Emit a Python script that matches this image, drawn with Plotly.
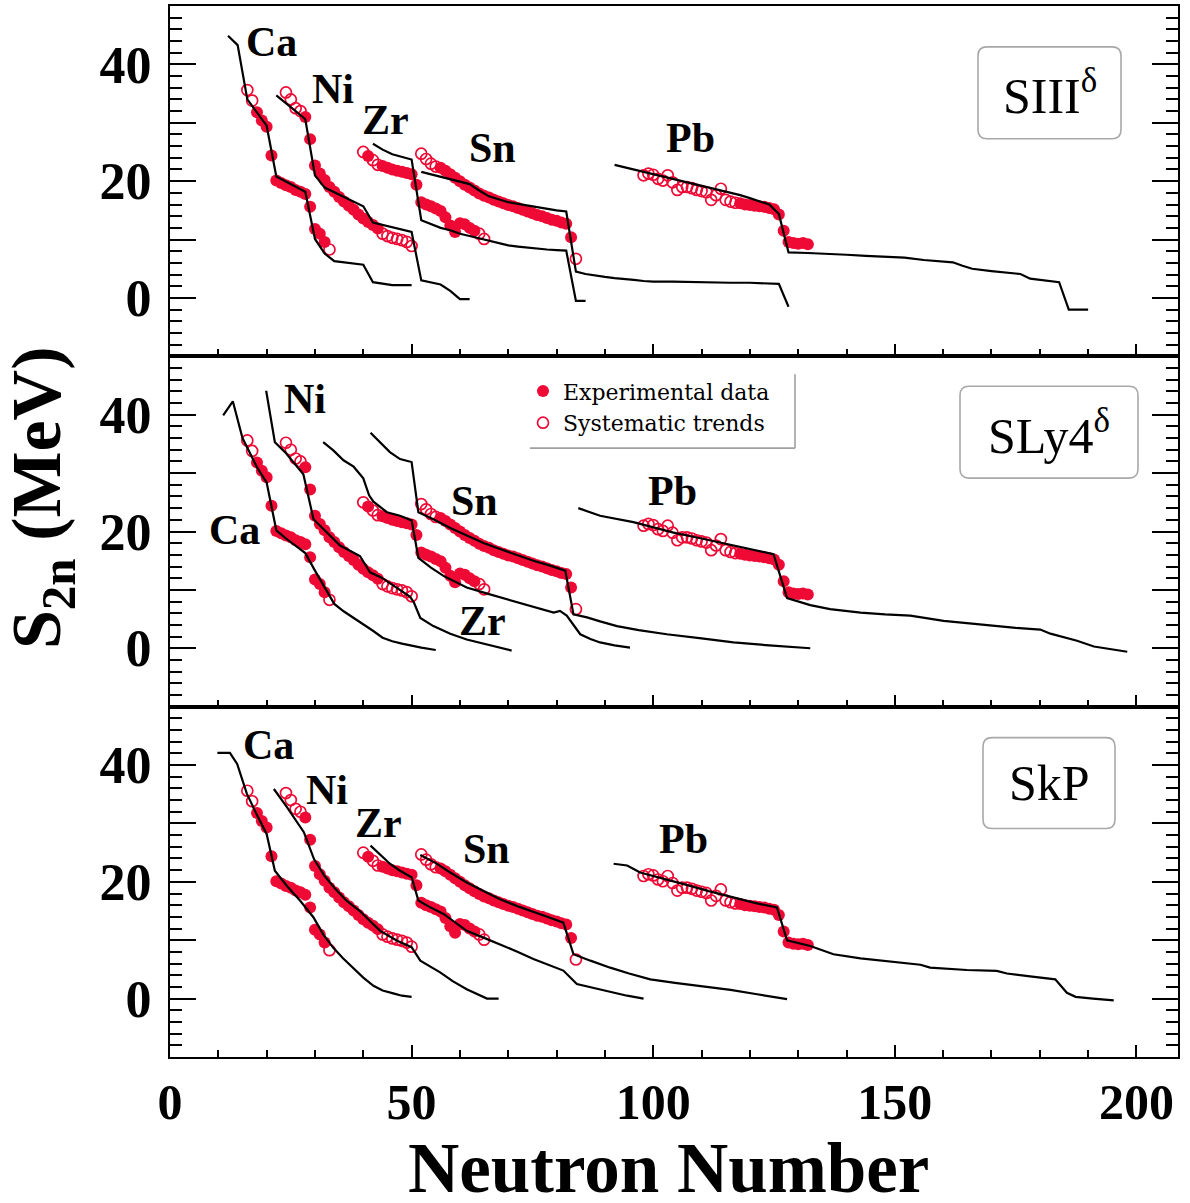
import plotly.graph_objects as go
from plotly.subplots import make_subplots

SERIF = "Liberation Serif"
RED = "#ee0a35"

# ---------------- experimental data (same in all panels) ----------------
ca_exp_n = [18, 19, 20, 21, 22, 23, 24, 25, 26, 27, 28, 29, 30, 31, 32]
ca_exp_s = [31.8, 30.4, 29.3, 24.4, 20.1, 19.7, 19.3, 19.0, 18.5, 18.2, 17.8, 15.6, 11.8, 11.0, 9.6]
ca_sys_n = [16, 17, 33]
ca_sys_s = [35.6, 33.8, 8.3]

ni_exp_n = [28, 29, 30, 31, 32, 33, 34, 35, 36, 37, 38, 39, 40, 41, 42, 43]
ni_exp_s = [31.0, 27.2, 22.7, 21.3, 20.2, 19.0, 18.2, 17.3, 16.5, 15.8, 15.1, 14.3, 13.6, 13.0, 12.5, 11.9]
ni_sys_n = [24, 25, 26, 27, 44, 45, 46, 47, 48, 49, 50]
ni_sys_s = [35.2, 34.0, 32.5, 32.0, 11.0, 10.6, 10.3, 10.1, 9.9, 9.6, 8.9]

zr_exp_n = [41, 44, 45, 46, 47, 48, 49, 50, 51, 52, 53, 54, 55, 56, 57, 58, 59, 60, 61, 62, 63]
zr_exp_s = [24.3, 22.6, 22.3, 22.0, 21.8, 21.6, 21.4, 21.2, 19.4, 16.4, 16.0, 15.7, 15.3, 14.9, 13.8,
            12.4, 11.3, 12.8, 12.6, 12.0, 11.5]
zr_sys_n = [40, 42, 43, 64, 65]
zr_sys_s = [25.0, 23.6, 22.8, 11.0, 10.1]

sn_exp_n = [56, 57, 58, 59, 60, 61, 62, 63, 64, 65, 66, 67, 68, 69, 70, 71, 72, 73, 74, 75, 76, 77,
            78, 79, 80, 81, 82, 83]
sn_exp_s = [22.3, 21.8, 21.2, 20.6, 20.0, 19.4, 18.9, 18.4, 17.9, 17.5, 17.2, 16.8, 16.5, 16.2, 15.9,
            15.7, 15.4, 15.1, 14.8, 14.5, 14.2, 14.0, 13.7, 13.4, 13.2, 12.9, 12.7, 10.4]
sn_sys_n = [52, 53, 54, 55, 84]
sn_sys_s = [24.7, 23.8, 23.0, 22.5, 6.7]

pb_exp_n = [118, 119, 120, 121, 122, 123, 124, 125, 126, 127, 128, 129, 130, 131, 132]
pb_exp_s = [16.2, 16.0, 15.9, 15.8, 15.7, 15.6, 15.4, 15.2, 14.3, 11.5, 9.6, 9.4, 9.3, 9.4, 9.2]
pb_sys_n = [98, 99, 100, 101, 102, 103, 104, 105, 106, 107, 108, 109, 110, 111, 112, 113, 114, 115, 116, 117]
pb_sys_s = [21.0, 21.3, 21.1, 20.4, 20.1, 21.0, 19.8, 18.5, 19.0, 19.0, 18.8, 18.5, 18.3, 18.1, 16.8,
            17.6, 18.7, 16.8, 16.5, 16.3]

# ---------------- SIII^delta calculations ----------------
siii_ca_n = [12, 14, 16, 18, 20, 22, 24, 26, 28, 30, 32, 34, 36, 38, 40, 42, 44, 46, 48, 50]
siii_ca_s = [44.9, 43.3, 34.0, 31.7, 29.5, 20.8, 19.9, 19.0, 18.2, 10.1, 7.6, 6.3, 6.1, 5.9, 5.7, 2.7,
             2.4, 2.2, 2.2, 2.2]
siii_ni_n = [22, 24, 26, 28, 30, 32, 34, 36, 38, 40, 42, 44, 46, 48, 50, 52, 54, 56, 58, 60, 62]
siii_ni_s = [34.7, 33.4, 32.0, 30.6, 21.0, 18.9, 18.1, 17.3, 16.5, 15.7, 12.9, 12.5, 12.1, 11.7, 11.3,
             3.0, 2.7, 2.3, 1.2, -0.2, -0.2]
siii_zr_n = [42, 44, 46, 48, 50, 52, 54, 56, 58, 60, 62, 64, 66, 68, 70, 72, 74, 76, 78, 80, 82, 84, 86]
siii_zr_s = [26.4, 25.4, 24.6, 24.1, 23.7, 13.3, 12.6, 12.0, 11.6, 11.0, 10.6, 10.2, 9.8, 9.4, 9.0,
             8.8, 8.6, 8.4, 8.3, 8.2, 8.1, -0.5, -0.5]
siii_sn_n = [52, 54, 56, 58, 60, 62, 64, 66, 68, 70, 72, 74, 76, 78, 80, 82, 84, 86, 88, 90, 92, 94,
             96, 98, 100, 104, 108, 112, 116, 120, 124, 126, 128]
siii_sn_s = [21.6, 21.2, 20.8, 20.4, 20.0, 19.5, 18.4, 17.4, 16.9, 16.4, 16.1, 15.8, 15.5, 15.3, 15.0,
             14.8, 4.5, 4.1, 3.8, 3.6, 3.4, 3.3, 3.1, 2.9, 2.8, 2.8, 2.7, 2.7, 2.6, 2.6, 2.5, 2.4, -1.5]
siii_pb_n = [92, 94, 96, 98, 100, 102, 104, 106, 108, 110, 112, 114, 116, 118, 120, 122, 124, 126, 128,
             132, 136, 140, 144, 148, 152, 156, 160, 162, 164, 166, 170, 174, 176, 178, 180, 184, 186, 190]
siii_pb_s = [22.8, 22.4, 22.0, 21.6, 21.2, 20.9, 20.5, 20.1, 19.7, 19.3, 18.9, 18.5, 18.1, 17.6, 17.1,
             16.6, 16.0, 14.4, 7.8, 7.7, 7.6, 7.4, 7.2, 7.1, 6.9, 6.5, 6.2, 6.1, 5.5, 5.0, 4.6, 4.2,
             4.1, 3.3, 3.1, 2.7, -2.0, -2.0]

# ---------------- SLy4^delta calculations ----------------
sly4_ca_n = [11, 13, 15, 18, 20, 22, 24, 26, 28, 30, 32, 34, 36, 38, 40, 42, 44, 46, 48, 50, 52, 55]
sly4_ca_s = [39.9, 42.3, 36.0, 31.0, 28.4, 20.2, 18.8, 17.6, 16.3, 13.3, 10.4, 7.6, 6.3, 5.2, 4.2,
             3.0, 1.8, 1.2, 0.8, 0.4, 0.1, -0.3]
sly4_ni_n = [19.9, 21.7, 23.8, 26.2, 27.6, 29.7, 31.7, 35.2, 39.3, 41.4, 43.8, 47, 49.7, 50.5, 51.8,
             54.5, 58, 61.4, 66, 70.7]
sly4_ni_s = [44.1, 35.3, 33.6, 31.3, 29.8, 22.1, 20.4, 17.6, 15.8, 13.0, 12.1, 10.3, 8.8, 7.8, 5.2,
             3.8, 2.5, 1.5, 0.5, -0.4]
sly4_zr_n = [31.7, 33.8, 35.9, 38, 40, 41.2, 42.1, 44.9, 47.6, 50, 51.4, 54, 56.6, 61.4, 65.5, 69.7,
             74.5, 79.4, 80.7, 82.1, 84.9, 87, 89, 92, 95.2]
sly4_zr_s = [35.3, 33.9, 32.2, 31.1, 29.1, 26.2, 25.1, 23.3, 22.7, 21.9, 15.5, 13.8, 12.4, 10.4, 9.4,
             8.4, 7.3, 6.1, 6.4, 5.6, 2.4, 1.6, 1.0, 0.5, 0.1]
sly4_sn_n = [41.5, 43.5, 45.5, 47.6, 50, 51.4, 54.5, 58, 61.4, 65, 68.3, 72, 75.2, 78.5, 81.8, 83.5,
             86.3, 89, 92.5, 97, 102.8, 110, 116.6, 124, 132.5]
sly4_sn_s = [36.9, 35.3, 33.6, 32.4, 31.9, 23.3, 22.1, 20.6, 19.3, 18.0, 17.0, 15.9, 15.0, 14.2, 13.3,
             5.8, 5.3, 4.6, 3.8, 3.1, 2.4, 1.7, 1.0, 0.5, 0.0]
sly4_pb_n = [84.5, 89, 95.9, 100, 104.2, 110, 116.6, 121, 124.9, 127.7, 130, 132.5, 136.6, 142.9, 148,
             153.2, 160.1, 165, 170.5, 175, 180.1, 182.2, 187.7, 191.2, 198.1]
sly4_pb_s = [24.0, 22.7, 21.6, 20.7, 19.8, 18.8, 17.6, 16.8, 16.1, 8.6, 8.0, 7.4, 6.7, 6.1, 5.8, 5.6,
             4.7, 4.3, 3.8, 3.5, 3.2, 2.5, 1.3, 0.3, -0.6]

# ---------------- SkP calculations ----------------
skp_ca_n = [9.8, 12.4, 13.9, 15.9, 17.9, 20, 21.7, 24.2, 26.9, 29.7, 31.7, 33.8, 35.8, 37.9, 40, 42.1,
            44, 46.2, 48, 50]
skp_ca_s = [42.1, 42.1, 40.2, 35.1, 31.6, 28.2, 21.9, 19.3, 16.8, 13.9, 11.0, 8.7, 6.9, 5.3, 3.6, 2.2,
            1.4, 0.9, 0.5, 0.3]
skp_ni_n = [21.5, 24.2, 27.7, 29.8, 32, 34.2, 36.5, 39.3, 41.5, 43.5, 47, 50, 51.8, 55.9, 58.5, 61.4,
            65.6, 68]
skp_ni_s = [35.9, 32.8, 28.5, 23.9, 21.0, 18.8, 16.8, 15.0, 13.2, 11.6, 9.9, 8.8, 6.5, 4.5, 3.0, 1.6,
            0.0, 0.0]
skp_zr_n = [41.5, 43.5, 45.5, 47.6, 50, 51.4, 53.5, 56.6, 59, 61.4, 65, 68.3, 72, 75.2, 78.5, 81.4,
            84.2, 89, 94.6, 98]
skp_zr_s = [26.2, 24.6, 23.1, 21.9, 20.8, 16.8, 15.8, 14.5, 13.0, 11.6, 10.4, 9.3, 8.0, 6.8, 5.8, 4.8,
            2.5, 1.6, 0.5, 0.0]
skp_sn_n = [51.8, 55, 58, 61.4, 65, 68.3, 72, 75.2, 78.5, 81.4, 83.5, 87, 91.1, 95, 99.4, 104.5, 109.7,
            116, 121.5, 127.7]
skp_sn_s = [24.6, 23.2, 21.6, 19.9, 18.4, 17.0, 15.8, 14.8, 13.9, 13.0, 7.6, 6.5, 5.3, 4.3, 3.3, 2.7,
            2.2, 1.5, 0.75, -0.1]
skp_pb_n = [91.8, 94.6, 97.3, 102, 106.3, 111.5, 116.6, 121, 125.6, 127.7, 132.5, 137.3, 142.9, 149,
            155.3, 157.3, 164.9, 171.1, 173.2, 178, 183.2, 185.6, 187.4, 191, 195.3]
skp_pb_s = [23.1, 22.8, 21.6, 20.6, 19.6, 18.4, 17.3, 16.4, 15.6, 10.0, 9.0, 7.6, 6.9, 6.3, 5.8, 5.3,
            4.9, 4.75, 4.3, 3.8, 3.3, 1.0, 0.3, 0.0, -0.3]

element_names = ["Ca", "Ni", "Zr", "Sn", "Pb"]
model_names = ["SIII<sup>δ</sup>", "SLy4<sup>δ</sup>", "SkP"]

exp_sets = [(ca_exp_n, ca_exp_s), (ni_exp_n, ni_exp_s), (zr_exp_n, zr_exp_s),
            (sn_exp_n, sn_exp_s), (pb_exp_n, pb_exp_s)]
sys_sets = [(ca_sys_n, ca_sys_s), (ni_sys_n, ni_sys_s), (zr_sys_n, zr_sys_s),
            (sn_sys_n, sn_sys_s), (pb_sys_n, pb_sys_s)]
model_lines = [
    [(siii_ca_n, siii_ca_s), (siii_ni_n, siii_ni_s), (siii_zr_n, siii_zr_s),
     (siii_sn_n, siii_sn_s), (siii_pb_n, siii_pb_s)],
    [(sly4_ca_n, sly4_ca_s), (sly4_ni_n, sly4_ni_s), (sly4_zr_n, sly4_zr_s),
     (sly4_sn_n, sly4_sn_s), (sly4_pb_n, sly4_pb_s)],
    [(skp_ca_n, skp_ca_s), (skp_ni_n, skp_ni_s), (skp_zr_n, skp_zr_s),
     (skp_sn_n, skp_sn_s), (skp_pb_n, skp_pb_s)],
]

# element label positions (data coords) per panel
label_pos = [
    [(21.1, 43.8), (33.7, 35.8), (44.5, 30.5), (66.7, 25.7), (107.7, 27.4)],
    [(13.3, 20.2), (28.0, 42.7), (64.6, 4.7), (63.1, 25.3), (103.9, 26.9)],
    [(20.3, 43.5), (32.5, 35.8), (43.1, 30.1), (65.4, 25.7), (106.2, 27.4)],
]

# ---------------- layout geometry ----------------
W, H = 1190, 1203
ML, MR, MT, MB = 170, 12, 4, 146
PW, PH = W - ML - MR, H - MT - MB


def px(x):
    return (x - ML) / PW


def py(y):
    return (H - MB - y) / PH


def rounded(x0, y0, x1, y1, r):
    return (f"M {px(x0 + r)},{py(y0)} L {px(x1 - r)},{py(y0)} "
            f"Q {px(x1)},{py(y0)} {px(x1)},{py(y0 + r)} L {px(x1)},{py(y1 - r)} "
            f"Q {px(x1)},{py(y1)} {px(x1 - r)},{py(y1)} L {px(x0 + r)},{py(y1)} "
            f"Q {px(x0)},{py(y1)} {px(x0)},{py(y1 - r)} L {px(x0)},{py(y0 + r)} "
            f"Q {px(x0)},{py(y0)} {px(x0 + r)},{py(y0)} Z")


fig = make_subplots(rows=3, cols=1, shared_xaxes=True, vertical_spacing=0)

for row in range(1, 4):
    first = True
    for (n, s) in exp_sets:
        fig.add_trace(go.Scatter(x=n, y=s, mode="markers", name="Experimental data",
                                 legendgroup="exp", showlegend=(row == 1 and first),
                                 marker=dict(symbol="circle", size=12, color=RED)),
                      row=row, col=1)
        first = False
    first = True
    for (n, s) in sys_sets:
        fig.add_trace(go.Scatter(x=n, y=s, mode="markers", name="Systematic trends",
                                 legendgroup="sys", showlegend=(row == 1 and first),
                                 marker=dict(symbol="circle-open", size=11, color=RED,
                                             line=dict(width=1.7, color=RED))),
                      row=row, col=1)
        first = False
    for (n, s) in model_lines[row - 1]:
        fig.add_trace(go.Scatter(x=n, y=s, mode="lines", showlegend=False,
                                 line=dict(color="black", width=2.2)),
                      row=row, col=1)
    for name, (lx, ly) in zip(element_names, label_pos[row - 1]):
        fig.add_annotation(x=lx, y=ly, xref=f"x{'' if row == 1 else row}",
                           yref=f"y{'' if row == 1 else row}", text=f"<b>{name}</b>",
                           showarrow=False, xanchor="center", yanchor="middle",
                           font=dict(family=SERIF, size=42, color="black"))

    fig.update_xaxes(row=row, col=1, range=[0, 208.6], showline=True, linewidth=2,
                     linecolor="black", mirror=True, ticks="inside", tick0=0, dtick=50,
                     ticklen=12, tickwidth=2, tickcolor="black", showgrid=False, zeroline=False,
                     minor=dict(tick0=0, dtick=10, ticks="inside", ticklen=7, tickwidth=1.5,
                                tickcolor="black", showgrid=False),
                     showticklabels=(row == 3),
                     tickfont=dict(family=SERIF, size=50, color="black", weight="bold"))
    fig.update_yaxes(row=row, col=1, range=[-10, 50], showline=True, linewidth=2,
                     linecolor="black", mirror="allticks", ticks="inside",
                     tickmode="array", tickvals=[-10, 0, 10, 20, 30, 40, 50],
                     ticktext=["", "0", "", "20", "", "40", ""],
                     ticklen=26, tickwidth=2, tickcolor="black", showgrid=False, zeroline=False,
                     minor=dict(tickmode="linear", tick0=0, dtick=2, ticks="inside", ticklen=12,
                                tickwidth=1.5, tickcolor="black", showgrid=False),
                     ticklabelstandoff=6,
                     tickfont=dict(family=SERIF, size=52, color="black", weight="bold"))

# model boxes
boxes = [(978, 45, 1121, 137), (960, 385, 1138, 477), (983, 737, 1115, 828)]
for (x0, y0, x1, y1), label in zip(boxes, model_names):
    fig.add_shape(type="path", path=rounded(x0, y0, x1, y1, 9), xref="paper", yref="paper",
                  line=dict(color="#a8a8a8", width=1.6), fillcolor="rgba(0,0,0,0)")
    fig.add_annotation(x=px((x0 + x1) / 2), y=py((y0 + y1) / 2), xref="paper", yref="paper",
                       text=label, showarrow=False, xanchor="center", yanchor="middle",
                       font=dict(family=SERIF, size=50, color="black"))

# legend frame (right and bottom edges only)
fig.add_shape(type="line", xref="paper", yref="paper", x0=px(795), x1=px(795), y0=py(373),
              y1=py(447), line=dict(color="#a0a0a0", width=1.6))
fig.add_shape(type="line", xref="paper", yref="paper", x0=px(530), x1=px(795), y0=py(447),
              y1=py(447), line=dict(color="#a0a0a0", width=1.6))

# axis titles
fig.add_annotation(x=px(42), y=py(497), xref="paper", yref="paper",
                   text="<b>S<sub>2n</sub> (MeV)</b>", textangle=-90, showarrow=False,
                   xanchor="center", yanchor="middle",
                   font=dict(family=SERIF, size=70, color="black"))
fig.add_annotation(x=px(668), y=py(1168), xref="paper", yref="paper",
                   text="<b>Neutron Number</b>", showarrow=False,
                   xanchor="center", yanchor="middle",
                   font=dict(family=SERIF, size=71, color="black"))

fig.update_layout(
    width=W, height=H,
    margin=dict(l=ML, r=MR, t=MT, b=MB),
    plot_bgcolor="white", paper_bgcolor="white",
    legend=dict(x=px(523), y=py(369), xanchor="left", yanchor="top",
                font=dict(family="DejaVu Serif", size=22, color="black"),
                bgcolor="rgba(0,0,0,0)", tracegroupgap=0, itemwidth=30),
)

fig.write_html("out.html", config={"displayModeBar": False},
               post_script="document.body.style.margin='0px';")
